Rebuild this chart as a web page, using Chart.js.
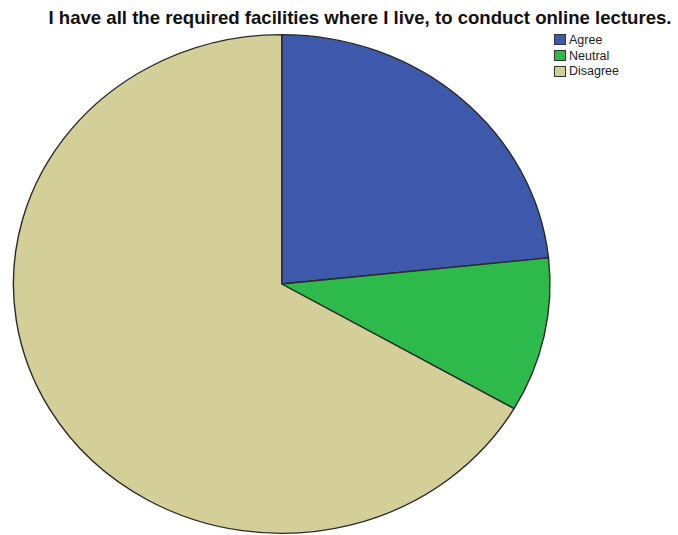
<!DOCTYPE html>
<html>
<head>
<meta charset="utf-8">
<script src="https://cdn.jsdelivr.net/npm/chart.js@4/dist/chart.umd.min.js"></script>
<style>
  html, body { margin: 0; padding: 0; background: #fff; }
  #wrap { position: relative; width: 678px; height: 535px; overflow: hidden; }
  #title { position: absolute; left: 0; width: 720px; top: 7px; text-align: center;
    font: bold 18.6px "Liberation Sans", Arial, sans-serif; color: #111; white-space: nowrap; }
  #legend { position: absolute; left: 554px; top: 32px; font: 12.5px "Liberation Sans", Arial, sans-serif; color: #222; }
  .lg-row { display: flex; align-items: center; height: 15.8px; }
  .lg-box { width: 12px; height: 11px; border: 1px solid #333; margin-right: 3px; box-sizing: border-box; }
  canvas { position: absolute; left: 0; top: 0; }
</style>
</head>
<body>
<div id="wrap">
  <div id="title">I have all the required facilities where I live, to conduct online lectures.</div>
  <div id="legend"></div>
  <canvas id="pieChart" width="678" height="535"></canvas>
</div>
<script>
const labels = ['Agree', 'Neutral', 'Disagree'];
const counts = [7, 3, 20];
const colors = ['#3e58ab', '#2eb94b', '#d4cf98'];

// legend built from the same arrays
document.getElementById('legend').innerHTML = labels.map((l, i) => `
  <div class="lg-row"><span class="lg-box" style="background:${colors[i]}"></span>${l}</div>
`).join('');

// pie is drawn slightly wider than tall
const stretchX = 269 / 250;
const ellipse = {
  id: 'ellipse',
  beforeDatasetsDraw(chart) {
    const a = chart.chartArea;
    const cx = (a.left + a.right) / 2;
    chart.ctx.save();
    chart.ctx.translate(cx, 0);
    chart.ctx.scale(stretchX, 1);
    chart.ctx.translate(-cx, 0);
  },
  afterDatasetsDraw(chart) { chart.ctx.restore(); }
};

new Chart(document.getElementById('pieChart').getContext('2d'), {
  type: 'pie',
  data: {
    labels,
    datasets: [{ data: counts, backgroundColor: colors, borderColor: '#2a2a2a', borderWidth: 1.3 }]
  },
  options: {
    responsive: false, animation: false,
    layout: { padding: { top: 34, bottom: 1, left: 0, right: 114.6 } },
    plugins: { legend: { display: false }, tooltip: { enabled: false } }
  },
  plugins: [ellipse]
});
</script>
</body>
</html>
